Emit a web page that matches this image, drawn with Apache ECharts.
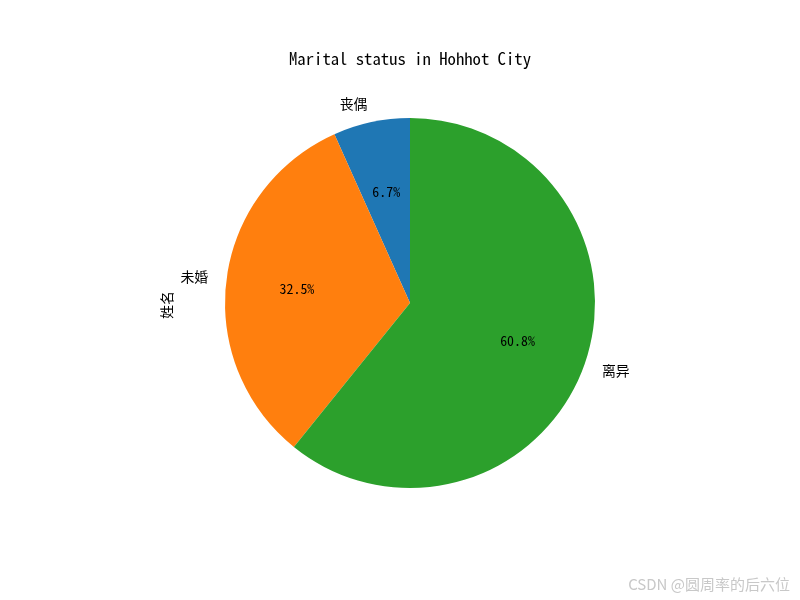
<!DOCTYPE html>
<html><head><meta charset="utf-8">
<script src="https://cdn.jsdelivr.net/npm/echarts@6/dist/echarts.min.js"></script>
<style>html,body{margin:0;padding:0;background:#fff}#c{width:800px;height:600px}</style>
</head><body><div id="c"></div>
<script>
const categories = ['丧偶', '未婚', '离异'];
const values = [6.7, 32.5, 60.8];
const colors = ['#1f77b4', '#ff7f0e', '#2ca02c'];
const titleText = 'Marital status in Hohhot City';
const yLabel = '姓名';
const watermark = 'CSDN @圆周率的后六位';

const FONT = '"Noto Sans Mono CJK SC", "Noto Sans CJK SC", monospace';
const data = categories.map((c, i) => ({ name: c, value: values[i], itemStyle: { color: colors[i] } }));
const chart = echarts.init(document.getElementById('c'));
const R = 185;
chart.setOption({
  animation: false,
  title: { text: titleText, left: 405, top: 45, textAlign: 'center',
    textStyle: { fontFamily: FONT, fontSize: 16.7, fontWeight: 'normal', color: '#000' } },
  graphic: [
    { type: 'text', left: 160, top: 291, rotation: Math.PI / 2, originX: 0, originY: 0,
      style: { text: yLabel, font: '13.9px ' + FONT, fill: '#000', x: 0, y: 0 } },
    { type: 'text', right: 10, bottom: 8,
      style: { text: watermark, font: '15px "Noto Sans CJK SC", sans-serif', fill: '#c8c8c8' } }
  ],
  series: [
    {
      type: 'pie', center: [410, 303], radius: R, startAngle: 90, clockwise: false,
      avoidLabelOverlap: false, percentPrecision: 1,
      itemStyle: { borderWidth: 0 },
      emphasis: { disabled: true },
      label: { show: true, position: 'outside', formatter: '{b}', fontFamily: FONT, fontSize: 13.9, color: '#000', distanceToLabelLine: 0 },
      labelLine: { show: false, length: 0.1 * R, length2: 0 },
      data: data
    },
    {
      type: 'pie', center: [410, 303], radius: [0.2 * R, R], startAngle: 90, clockwise: false,
      percentPrecision: 1, silent: true,
      itemStyle: { color: 'rgba(0,0,0,0)', borderWidth: 0 },
      emphasis: { disabled: true },
      label: { show: true, position: 'inner', formatter: '{d}%', fontFamily: FONT, fontSize: 13.9, color: '#000' },
      labelLine: { show: false },
      data: values.map((v, i) => ({ name: categories[i], value: v }))
    }
  ]
});
</script></body></html>
